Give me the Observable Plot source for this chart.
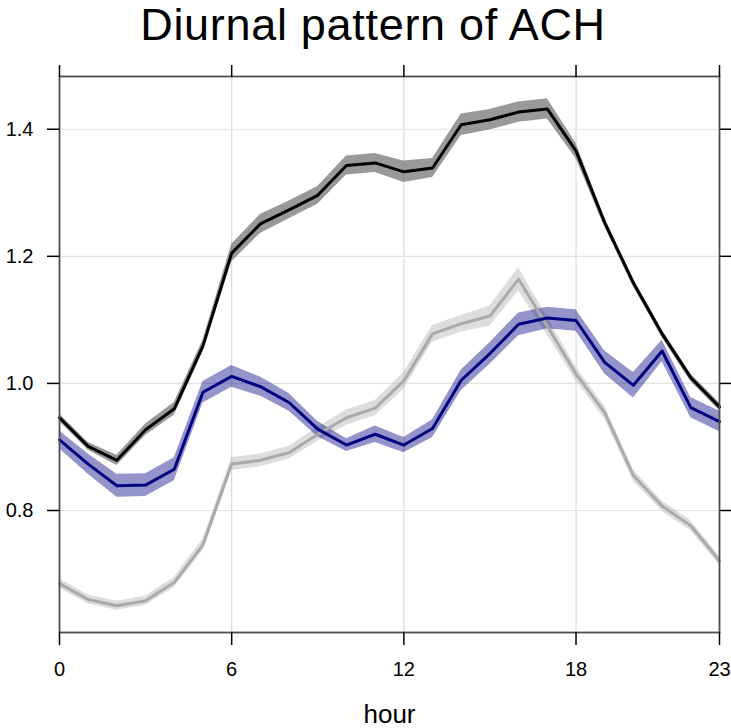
<!DOCTYPE html>
<html>
<head>
<meta charset="utf-8">
<script src="https://cdn.jsdelivr.net/npm/d3@7"></script>
<script src="https://cdn.jsdelivr.net/npm/@observablehq/plot@0.6"></script>
<style>
  html, body { margin: 0; padding: 0; background: #fff; }
  #title { height: 48px; font: 45px/50px "Liberation Sans", Arial, sans-serif; color: #000; letter-spacing: 0.7px;
           text-align: center; padding-left: 15px; width: 716px; white-space: nowrap; overflow: visible; }
  #chart svg { display: block; }
</style>
</head>
<body>
<div id="title">Diurnal pattern of ACH</div>
<div id="chart"></div>
<script>
const hours = d3.range(0, 24);
const xTicks = [0, 6, 12, 18, 23];
const yTicks = [0.8, 1.0, 1.2, 1.4];

// series 1 (black)
const blackMean = [0.946,0.901,0.879,0.927,0.960,1.059,1.205,1.251,1.273,1.296,1.343,1.347,1.333,1.339,1.407,1.415,1.427,1.432,1.366,1.253,1.158,1.078,1.009,0.963];
const blackCI   = [0.006,0.006,0.008,0.009,0.010,0.009,0.014,0.015,0.014,0.014,0.015,0.015,0.017,0.015,0.017,0.016,0.016,0.016,0.012,0.007,0.006,0.006,0.006,0.006];
// series 2 (navy)
const blueMean = [0.911,0.873,0.839,0.840,0.865,0.986,1.011,0.995,0.970,0.928,0.903,0.920,0.903,0.929,1.005,1.047,1.093,1.103,1.099,1.033,0.997,1.051,0.962,0.940];
const blueCI   = [0.014,0.016,0.018,0.018,0.018,0.017,0.017,0.015,0.014,0.012,0.010,0.013,0.012,0.014,0.016,0.017,0.018,0.017,0.017,0.018,0.020,0.017,0.016,0.016];
// series 3 (grey)
const greyMean = [0.685,0.660,0.650,0.658,0.687,0.746,0.873,0.879,0.891,0.920,0.946,0.961,1.004,1.078,1.094,1.106,1.164,1.090,1.015,0.954,0.855,0.807,0.776,0.721];
const greyCI   = [0.007,0.007,0.007,0.007,0.008,0.009,0.010,0.010,0.010,0.011,0.012,0.012,0.013,0.013,0.013,0.016,0.018,0.014,0.011,0.010,0.009,0.008,0.008,0.007];

const table = (mean, ci) => hours.map((h, i) => ({hour: h, mean: mean[i], lo: mean[i] - ci[i], hi: mean[i] + ci[i]}));
const black = table(blackMean, blackCI);
const blue = table(blueMean, blueCI);
const grey = table(greyMean, greyCI);

const chart = Plot.plot({
  width: 731,
  height: 680,
  marginTop: 28,
  marginBottom: 96,
  marginLeft: 59,
  marginRight: 12,
  style: {fontFamily: "'Liberation Sans', Arial, sans-serif", color: "#000", background: "#fff"},
  x: {domain: [0, 23], label: null},
  y: {domain: [0.608, 1.483], label: null},
  marks: [
    Plot.ruleX([6, 12, 18], {stroke: "#d9d9d9", strokeWidth: 1.2}),
    Plot.ruleY(yTicks, {stroke: "#e3e3e3", strokeWidth: 1.2}),
    Plot.areaY(grey, {x: "hour", y1: "lo", y2: "hi", fill: "#bbbbbb", fillOpacity: 0.5}),
    Plot.areaY(blue, {x: "hour", y1: "lo", y2: "hi", fill: "#000080", fillOpacity: 0.42}),
    Plot.areaY(black, {x: "hour", y1: "lo", y2: "hi", fill: "#808080", fillOpacity: 0.8}),
    Plot.lineY(grey, {x: "hour", y: "mean", stroke: "#aaaaaa", strokeWidth: 3}),
    Plot.lineY(blue, {x: "hour", y: "mean", stroke: "#000080", strokeWidth: 3}),
    Plot.lineY(black, {x: "hour", y: "mean", stroke: "#000000", strokeWidth: 3}),
    Plot.frame({stroke: "#4d4d4d", strokeWidth: 1.8}),
    Plot.axisY(yTicks, {anchor: "left", tickSize: 12, tickPadding: 14, fontSize: 20, stroke: "#000", fill: "#000", strokeWidth: 1.5, tickFormat: d => d.toFixed(1), label: null}),
    Plot.axisY(yTicks, {anchor: "right", tickSize: 12, stroke: "#000", fill: "none", strokeWidth: 1.5, label: null}),
    Plot.axisX(xTicks, {anchor: "bottom", tickSize: 13, tickPadding: 16, fontSize: 20, stroke: "#000", fill: "#000", strokeWidth: 1.5, tickFormat: d => String(d), label: null}),
    Plot.axisX(xTicks, {anchor: "top", tickSize: 12, stroke: "#000", fill: "none", strokeWidth: 1.5, label: null}),
    Plot.text(["hour"], {frameAnchor: "bottom", dy: 90, fontSize: 26, lineAnchor: "bottom", textAnchor: "middle", fill: "#000"})
  ]
});
document.getElementById("chart").appendChild(chart);
</script>
</body>
</html>
